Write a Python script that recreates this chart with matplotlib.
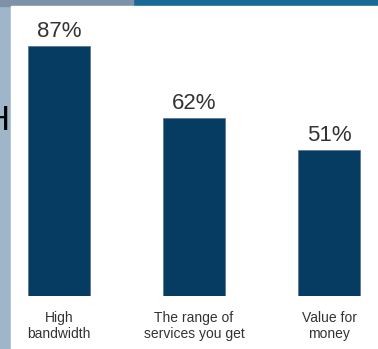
import matplotlib.pyplot as plt
from matplotlib.patches import Rectangle

categories = ['High\nbandwidth', 'The range of\nservices you get', 'Value for\nmoney']
values = [87, 62, 51]
labels = ['87%', '62%', '51%']

W, H = 378, 349
fig = plt.figure(figsize=(W / 100, H / 100), dpi=100, facecolor='#9fb6ca')

# background pieces: top strip and white panel
fig.patches.append(Rectangle((133 / W, 1 - 6 / H), 1, 6 / H, transform=fig.transFigure,
                             color='#186996', zorder=0))
fig.patches.append(Rectangle((0, 1 - 6 / H), 133 / W, 6 / H, transform=fig.transFigure,
                             color='#7d92a6', zorder=0))
fig.patches.append(Rectangle((11 / W, 0), 1, 1 - 6 / H, transform=fig.transFigure,
                             color='white', zorder=0))
# bit of slide title cut off at the left edge
fig.text(9 / W, 1 - 120 / H, 'H', ha='right', va='center', fontsize=25,
         family='Liberation Sans', color='black')

ax = fig.add_axes([11 / W, 53 / H, 1 - 11 / W, 290 / H])
ax.set_zorder(5)
ax.patch.set_alpha(0)
x = range(len(values))
bars = ax.bar(x, values, width=0.46, color='#073c62', edgecolor='#4f7192', linewidth=0.5)
for xi, v, t in zip(x, values, labels):
    ax.text(xi, v + 5.0, t, ha='center', va='center', fontsize=16,
            family='Liberation Sans', color='#333333')

ax.set_xlim(-0.356, 2.363)
ax.set_ylim(0, 101)
ax.set_xticks(list(x))
ax.set_xticklabels(categories, fontsize=10, family='Liberation Sans', color='#333333',
                   linespacing=1.15)
ax.tick_params(axis='x', length=0, pad=11)
ax.set_yticks([])
for s in ax.spines.values():
    s.set_visible(False)

fig.savefig('out.png', dpi=100, facecolor=fig.get_facecolor())
